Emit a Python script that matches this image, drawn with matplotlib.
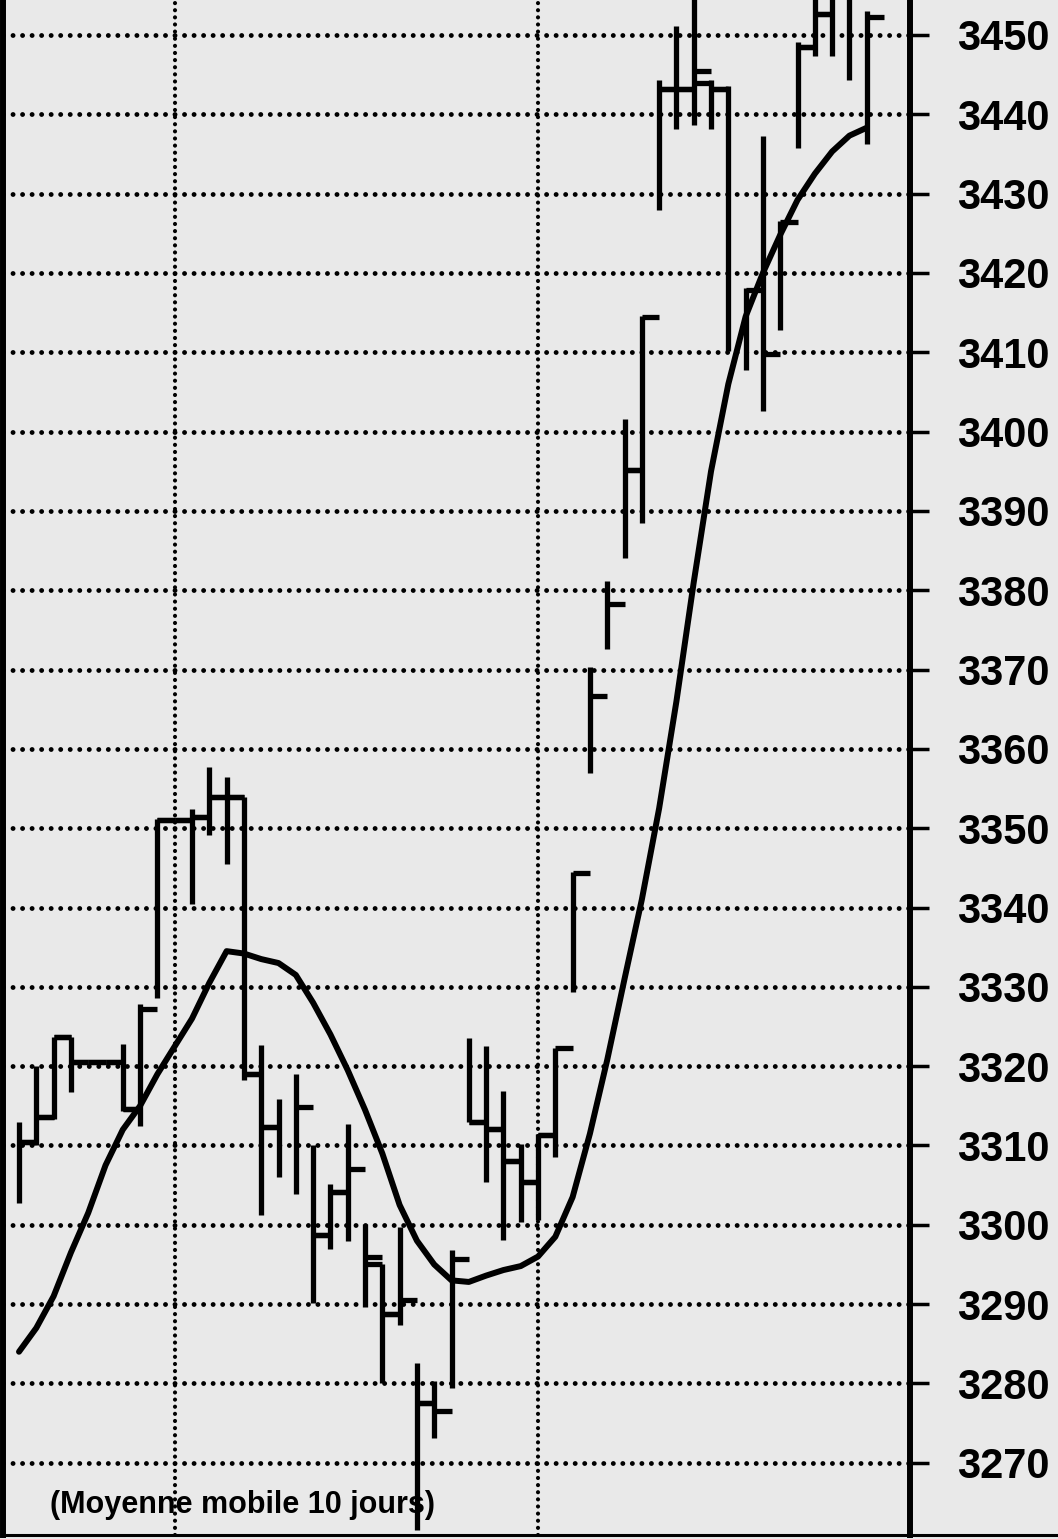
import numpy as np
import matplotlib
matplotlib.use("Agg")
import matplotlib.pyplot as plt
from matplotlib.lines import Line2D

nan = np.nan
# ---- data (daily bars) ----
days = np.arange(50)
high = [3313.0, 3320.0, 3323.7, 3323.7, 3320.5, 3320.5, 3322.8, 3327.9, 3351.1, 3351.0,
        3352.4, 3357.7, 3356.5, 3353.9, 3322.7, 3315.8, 3319.0, 3310.0, 3305.1, 3312.7,
        3300.1, 3295.1, 3299.7, 3282.6, 3280.3, 3296.8, 3323.5, 3322.5, 3316.9, 3310.2,
        3311.5, 3322.3, 3344.5, 3370.3, 3381.1, 3401.6, 3414.6, 3444.3, 3451.1, 3457.0,
        3444.3, 3443.5, 3418.1, 3437.2, 3426.6, 3449.1, 3457.0, 3457.0, 3457.0, 3453.0]
low = [3302.7, 3310.0, 3313.4, 3316.8, 3320.5, 3320.5, 3314.4, 3312.5, 3328.6, 3351.0,
       3340.4, 3349.1, 3345.5, 3318.3, 3301.2, 3306.0, 3303.9, 3290.1, 3297.0, 3298.0,
       3289.7, 3280.1, 3287.4, 3261.5, 3273.1, 3279.4, 3312.9, 3305.4, 3298.1, 3300.4,
       3300.6, 3308.5, 3329.4, 3356.9, 3372.6, 3384.1, 3388.5, 3427.9, 3438.1, 3438.7,
       3438.1, 3410.2, 3407.7, 3402.6, 3412.8, 3435.7, 3447.4, 3447.4, 3444.3, 3436.2]
opens = [nan, 3310.5, 3313.6, 3323.7, 3320.5, 3320.5, 3320.5, 3314.6, nan, 3351.0,
         3351.0, 3351.4, 3353.9, 3353.9, 3319.0, 3312.3, nan, nan, 3298.7, 3304.1,
         nan, 3295.0, 3288.8, nan, 3277.5, nan, nan, 3312.9, 3312.1, 3308.1,
         3305.4, 3311.3, nan, nan, nan, nan, 3395.1, nan, 3443.2, 3443.2,
         3444.0, 3443.2, nan, nan, nan, nan, 3448.5, 3452.6, nan, nan]
closes = [3310.5, 3313.6, 3323.7, 3320.5, 3320.5, 3320.5, 3314.6, 3327.2, 3351.0, 3351.0,
          3351.4, 3353.9, 3353.9, 3319.0, 3312.3, nan, 3314.8, 3298.7, 3304.1, 3307.0,
          3296.0, 3288.8, 3290.5, 3277.5, 3276.5, 3295.7, 3312.9, 3312.1, 3308.1, 3305.4,
          3311.3, 3322.3, 3344.3, 3366.7, 3378.3, 3395.1, 3414.4, 3443.2, 3443.2, 3445.5,
          3443.2, nan, 3417.8, 3409.8, 3426.4, 3448.5, 3452.6, nan, nan, 3452.3]
ma10 = [3284.0, 3287.0, 3291.0, 3296.5, 3301.5, 3307.5, 3312.0, 3315.0, 3319.0, 3322.5,
        3326.0, 3330.5, 3334.5, 3334.2, 3333.5, 3333.0, 3331.5, 3328.0, 3324.0, 3319.5,
        3314.5, 3309.0, 3302.5, 3298.0, 3295.0, 3293.0, 3292.8, 3293.6, 3294.3, 3294.8,
        3296.0, 3298.5, 3303.5, 3311.5, 3320.8, 3331.0, 3341.0, 3352.5, 3366.0, 3381.0,
        3395.0, 3406.0, 3414.5, 3420.0, 3424.8, 3429.2, 3432.5, 3435.3, 3437.3, 3438.3]
price_ticks = list(range(3270, 3460, 10))
tick_labels = [str(v) for v in price_ticks]
caption = "(Moyenne mobile 10 jours)"

# ---- figure ----
W, H = 1058, 1539
bg = "#e9e9e9"
fig = plt.figure(figsize=(W / 100, H / 100), dpi=100, facecolor=bg)
ax = fig.add_axes([3 / W, 4 / H, 907 / W, 1535 / H])
ax.set_facecolor(bg)
ax.set_xlim(-0.925, 51.5)
ax.set_ylim(3260.9, 3454.4)

# grid
for v in price_ticks:
    ax.axhline(v, color="black", lw=3.5, linestyle=(0, (0.01, 1.95)),
               dash_capstyle="round", zorder=1)
for xv in (9, 30):
    ax.axvline(xv, color="black", lw=3.0, linestyle=(0, (0.01, 1.7)),
               dash_capstyle="round", zorder=1)

d = np.asarray(days, dtype=float)
hi = np.asarray(high); lo = np.asarray(low)
op = np.asarray(opens); cl = np.asarray(closes)
bar_lw = 3.8
ax.vlines(d, lo, hi, color="black", lw=bar_lw, zorder=3)
m = ~np.isnan(op)
ax.hlines(op[m], d[m] - 1.0, d[m], color="black", lw=bar_lw, zorder=3)
m = ~np.isnan(cl)
ax.hlines(cl[m], d[m], d[m] + 1.0, color="black", lw=bar_lw, zorder=3)

ax.plot(d, ma10, color="black", lw=4.3, solid_joinstyle="round",
        solid_capstyle="round", zorder=4)

# axes styling
ax.set_xticks([])
ax.yaxis.tick_right()
ax.set_yticks(price_ticks)
ax.set_yticklabels(tick_labels, fontsize=30, fontweight="bold",
                   family="Liberation Sans")
ax.tick_params(axis="y", direction="out", length=14, width=2.5, pad=20,
               colors="black")
ax.spines["top"].set_visible(False)
ax.spines["left"].set_linewidth(4.3)
ax.spines["right"].set_linewidth(4.3)
ax.spines["bottom"].set_linewidth(2.2)
fig.add_artist(Line2D([910 / W, 1.0], [4 / H, 4 / H], color="black", lw=2.2))

ax.text(0.052, 0.0195, caption, transform=ax.transAxes, fontsize=22,
        fontweight="bold", family="Liberation Sans", va="center", ha="left",
        zorder=2)

fig.savefig("out.png", dpi=100, facecolor=bg)
